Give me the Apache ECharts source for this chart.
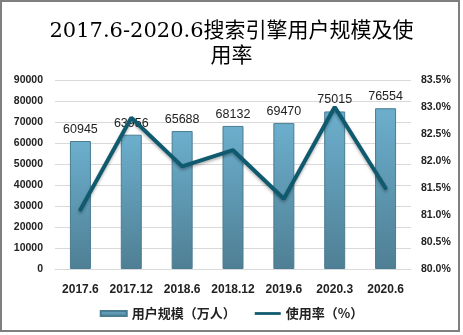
<!DOCTYPE html>
<html><head><meta charset="utf-8">
<script src="https://cdn.jsdelivr.net/npm/echarts@6/dist/echarts.min.js"></script>
<style>html,body{margin:0;padding:0;background:#fff}#c{width:463px;height:335px}</style>
</head><body><div id="c"></div>
<script>
const categories = ['2017.6','2017.12','2018.6','2018.12','2019.6','2020.3','2020.6'];
const users = [60945, 63956, 65688, 68132, 69470, 75015, 76554];
const usageRate = [81.1, 82.8, 81.9, 82.2, 81.3, 83.0, 81.5];
const titleText = '2017.6-2020.6搜索引擎用户规模及使\n用率';
const barName = '用户规模（万人）';
const lineName = '使用率（%）';

const chart = echarts.init(document.getElementById('c'));
const lab = {color:'#222', fontWeight:'bold', fontFamily:'Liberation Sans, Arial, sans-serif'};
chart.setOption({
  animation:false,
  backgroundColor:'#fff',
  title:{text:titleText, left:'center', top:14,
    textStyle:{fontFamily:"'DejaVu Serif','Noto Sans CJK SC',serif", fontSize:21, fontWeight:'normal', color:'#000', lineHeight:25}},
  graphic:[{type:'rect', shape:{x:1,y:1,width:458,height:330}, style:{fill:'none', stroke:'#7f7f7f', lineWidth:2}, silent:true}],
  legend:{bottom:10, itemWidth:26, itemHeight:5, itemGap:19,
    textStyle:{fontSize:13, fontWeight:'bold', color:'#222', fontFamily:"'Noto Sans CJK SC',sans-serif"},
    data:[{name:barName, icon:'rect'},{name:lineName, icon:'path://M0,1L28,1L28,4L0,4Z'}]},
  grid:{left:55, right:52, top:80, bottom:66},
  xAxis:{type:'category', data:categories,
    axisLine:{show:true, lineStyle:{color:'#d9d9d9'}}, axisTick:{show:false},
    axisLabel:Object.assign({fontSize:12, margin:15, interval:0}, lab)},
  yAxis:[
    {type:'value', min:0, max:90000, interval:10000,
     axisLine:{show:false}, axisTick:{show:false},
     splitLine:{lineStyle:{color:'#d9d9d9'}},
     axisLabel:Object.assign({fontSize:10.5, margin:12, formatter:v=>String(v)}, lab)},
    {type:'value', min:80, max:83.5, interval:0.5,
     axisLine:{show:false}, axisTick:{show:false}, splitLine:{show:false},
     axisLabel:Object.assign({fontSize:10.5, margin:10, formatter:v=>v.toFixed(1)+'%'}, lab)}
  ],
  series:[
    {name:barName, type:'bar', data:users, barWidth:21,
     itemStyle:{color:new echarts.graphic.LinearGradient(0,0,0,1,[{offset:0,color:'#6cafcd'},{offset:1,color:'#4f7f94'}]),
       borderColor:'#4a7d92', borderWidth:1},
     label:{show:true, position:'top', distance:5, fontSize:12.5, color:'#222', fontFamily:'Liberation Sans, Arial, sans-serif'}},
    {name:lineName, type:'line', yAxisIndex:1, data:usageRate, symbol:'none',
     lineStyle:{color:'#0f5a6e', width:4, cap:'round', shadowColor:'rgba(0,0,0,0.3)', shadowBlur:3, shadowOffsetY:2},
     itemStyle:{color:'#0f5a6e'}, z:3}
  ]
});
</script></body></html>
